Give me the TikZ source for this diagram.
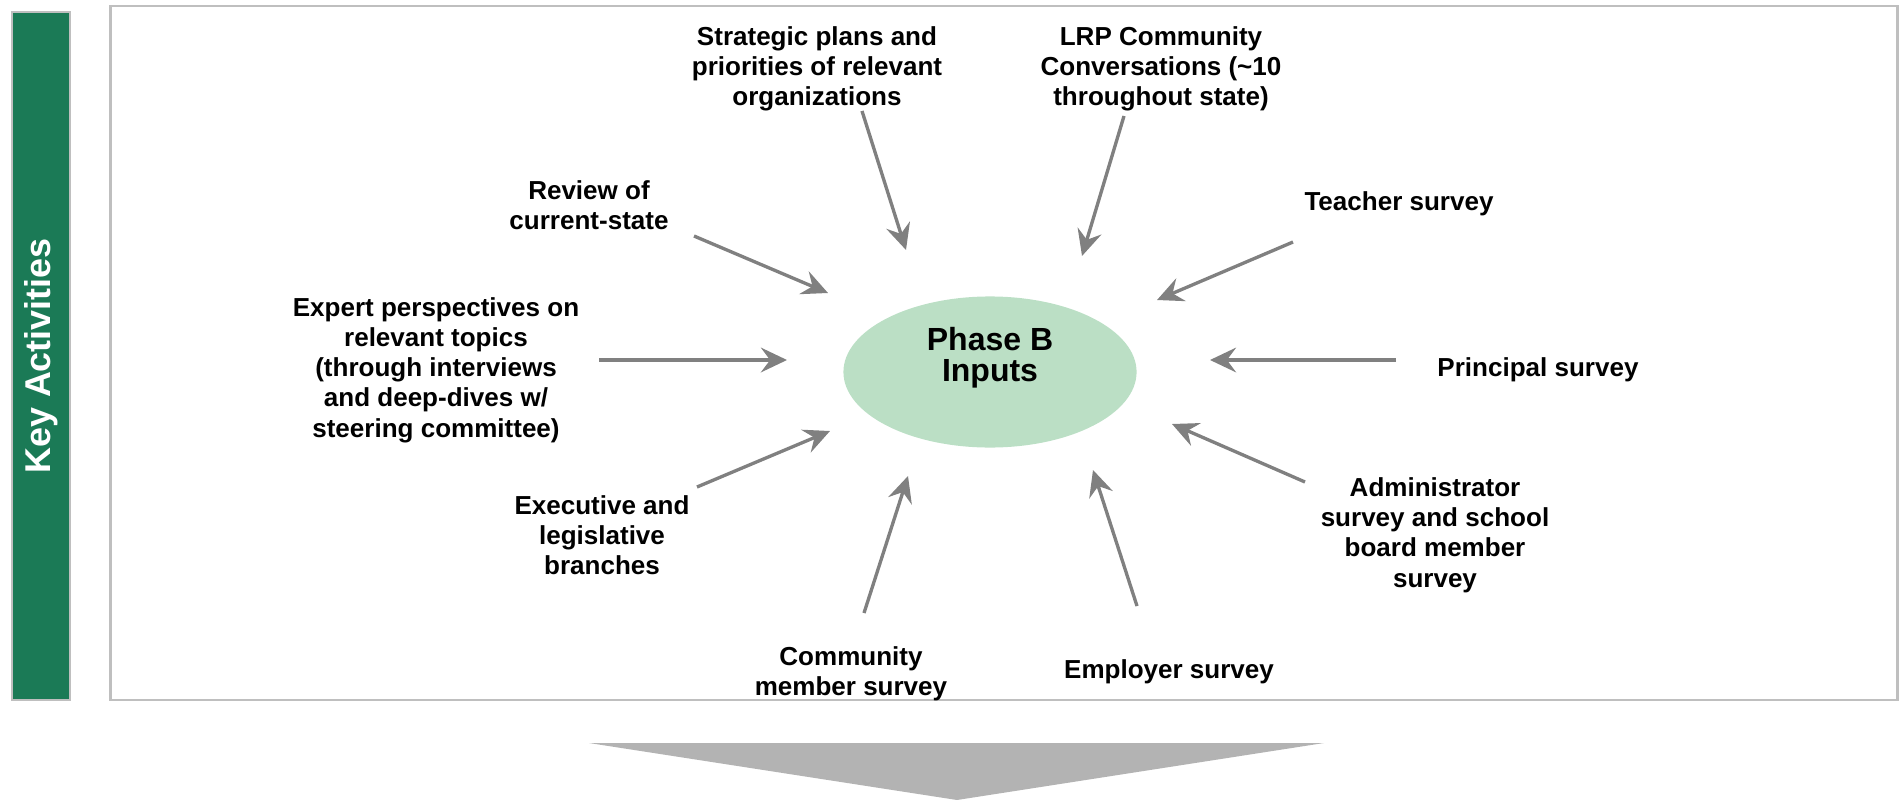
\documentclass[tikz,border=0pt]{standalone}
\usepackage{fontspec}
\setmainfont{Liberation Sans}
\usetikzlibrary{arrows.meta,shapes.geometric,positioning}
\definecolor{keygreen}{HTML}{1B7A56}
\definecolor{inputgreen}{HTML}{BBDFC5}
\definecolor{framegray}{HTML}{BFBFBF}
\definecolor{arrowgray}{HTML}{808080}
\definecolor{chevrongray}{HTML}{B3B3B3}

\begin{document}
\begin{tikzpicture}[x=0.01cm,y=-0.01cm,
    lbl/.style={align=center,inner sep=0pt,font=\bfseries\fontsize{7.4}{8.6}\selectfont},
    inarrow/.style={draw=arrowgray,fill=arrowgray,line width=0.95pt,
      -{Stealth[length=7.4pt,width=7pt,inset=2.6pt]}}]
    \useasboundingbox (0,0) rectangle (1900,800);
    %frames
    \node[draw=framegray,fill=keygreen,line width=0.6pt,rotate=90,minimum width=6.88cm,minimum height=0.58cm,
      text=white,font=\bfseries\fontsize{10.2}{12}\selectfont] (key) at (41,356) {Key Activities};
    \node[draw=framegray,line width=0.6pt,minimum width=17.86cm,minimum height=6.94cm] (frame) at (1004,353) {};
    %centre
    \node[ellipse,fill=inputgreen,minimum width=2.93cm,minimum height=1.51cm] (inputs) at (990,372) {};
    \node[font=\bfseries\fontsize{9.1}{8.8}\selectfont,align=center] (inputs-text) at (990,358) {Phase B\\Inputs};
    %sources
    \node[lbl] (strat) at (817,69) {Strategic plans and\\priorities of relevant\\organizations};
    \node[lbl] (lrp) at (1161,69) {LRP Community\\Conversations (\textasciitilde10\\throughout state)};
    \node[lbl] (review) at (589,205) {Review of\\current-state};
    \node[lbl] (expert) at (436,370) {Expert perspectives on\\relevant topics\\(through interviews\\and deep-dives w/\\steering committee)};
    \node[lbl] (exec) at (602,535) {Executive and\\legislative\\branches};
    \node[lbl] (community) at (851,674) {Community\\member survey};
    \node[lbl] (employer) at (1169,672) {Employer survey};
    \node[lbl] (admin) at (1435,535) {Administrator\\survey and school\\board member\\survey};
    \node[lbl] (principal) at (1538,370) {Principal survey};
    \node[lbl] (teacher) at (1399,204) {Teacher survey};
    %arrow ends
    \coordinate (strat-out) at (862,111);      \coordinate (strat-in) at (906,250);
    \coordinate (lrp-out) at (1124,116);       \coordinate (lrp-in) at (1082,256);
    \coordinate (review-out) at (694,236);     \coordinate (review-in) at (828,293);
    \coordinate (expert-out) at (599,360);     \coordinate (expert-in) at (787,360);
    \coordinate (exec-out) at (697,487);       \coordinate (exec-in) at (830,431);
    \coordinate (community-out) at (864,613);  \coordinate (community-in) at (908,476);
    \coordinate (employer-out) at (1137,606);  \coordinate (employer-in) at (1093,470);
    \coordinate (admin-out) at (1305,482);     \coordinate (admin-in) at (1172,424);
    \coordinate (principal-out) at (1396,360); \coordinate (principal-in) at (1210,360);
    \coordinate (teacher-out) at (1293,242);   \coordinate (teacher-in) at (1157,300);
    %edges
    \path
     (strat-out) edge[inarrow] (strat-in)
     (lrp-out) edge[inarrow] (lrp-in)
     (review-out) edge[inarrow] (review-in)
     (expert-out) edge[inarrow] (expert-in)
     (exec-out) edge[inarrow] (exec-in)
     (community-out) edge[inarrow] (community-in)
     (employer-out) edge[inarrow] (employer-in)
     (admin-out) edge[inarrow] (admin-in)
     (principal-out) edge[inarrow] (principal-in)
     (teacher-out) edge[inarrow] (teacher-in);
    %next phase
    \coordinate (chev-l) at (589,743);
    \coordinate (chev-r) at (1324,743);
    \coordinate (chev-tip) at (957,800);
    \fill[chevrongray] (chev-l) -- (chev-r) -- (chev-tip) -- cycle;
\end{tikzpicture}
\end{document}
